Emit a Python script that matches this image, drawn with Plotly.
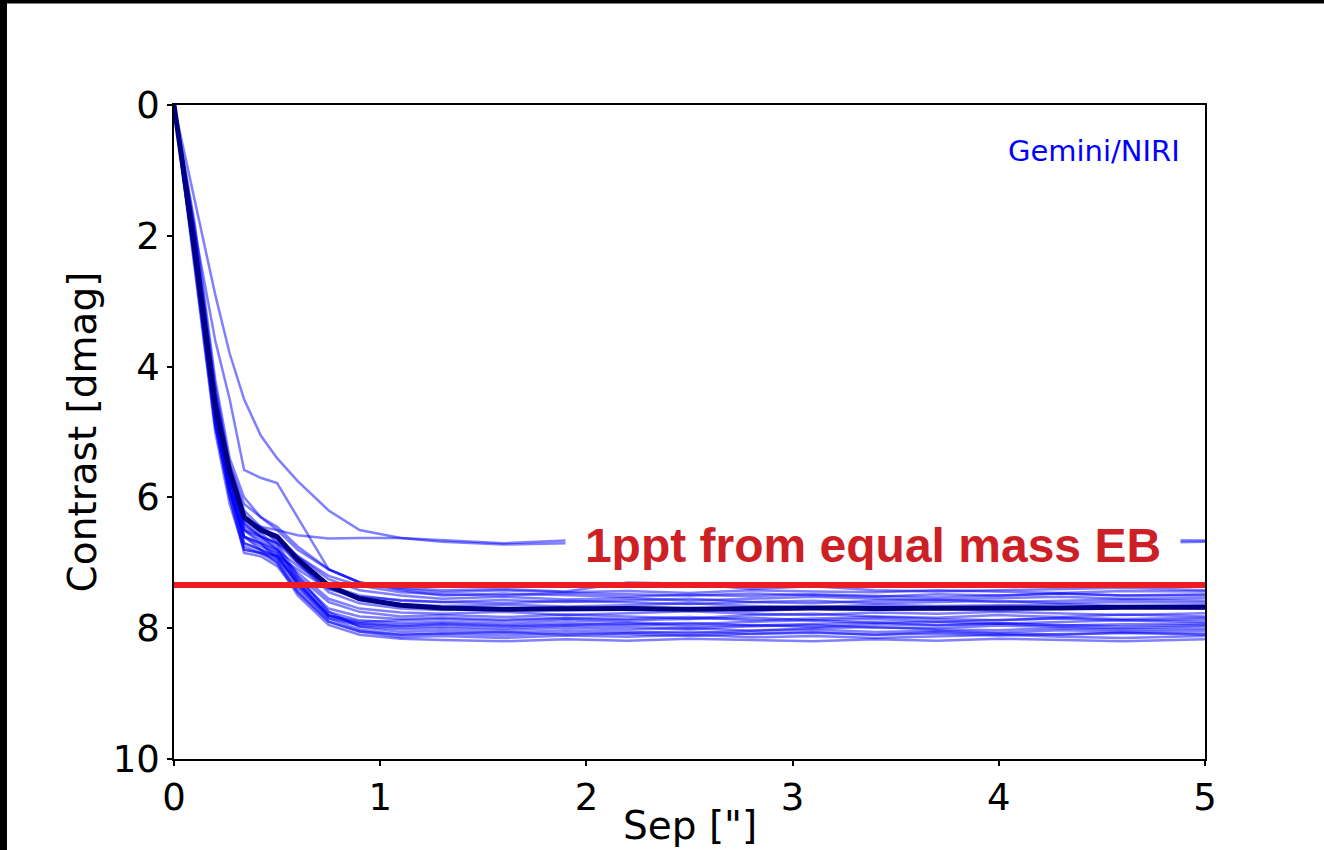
import plotly.graph_objects as go

# Separation grid [arcsec]
sep = [0.0, 0.1, 0.2, 0.27, 0.34, 0.42, 0.5, 0.6, 0.75, 0.9, 1.1, 1.3,
       1.6, 1.9, 2.2, 2.5, 2.8, 3.1, 3.4, 3.7, 4.0, 4.3, 4.6, 5.0]

c01 = [0, 2.0, 4.4, 5.5, 6.1, 6.3, 6.45, 6.75, 7.1, 7.3, 7.38, 7.42, 7.40, 7.44, 7.30, 7.32, 7.40, 7.36, 7.42, 7.44, 7.42, 7.40, 7.38, 7.42]
c02 = [0, 2.3, 4.7, 5.8, 6.5, 6.6, 6.7, 6.9, 7.2, 7.35, 7.45, 7.48, 7.5, 7.46, 7.48, 7.5, 7.47, 7.5, 7.52, 7.48, 7.5, 7.47, 7.5, 7.48]
c03 = [0, 2.1, 4.5, 5.6, 6.3, 6.45, 6.6, 6.9, 7.25, 7.42, 7.5, 7.55, 7.52, 7.56, 7.54, 7.58, 7.55, 7.52, 7.55, 7.57, 7.54, 7.52, 7.55, 7.54]
c04 = [0, 2.4, 4.9, 5.9, 6.6, 6.7, 6.8, 7.05, 7.35, 7.5, 7.58, 7.6, 7.62, 7.58, 7.6, 7.63, 7.6, 7.58, 7.62, 7.6, 7.58, 7.62, 7.6, 7.61]
c05 = [0, 2.2, 4.6, 5.7, 6.4, 6.6, 6.7, 7.0, 7.4, 7.55, 7.63, 7.66, 7.64, 7.67, 7.65, 7.62, 7.66, 7.68, 7.64, 7.66, 7.65, 7.63, 7.66, 7.65]
c06 = [0, 2.0, 4.5, 5.6, 6.3, 6.5, 6.65, 7.0, 7.45, 7.62, 7.7, 7.72, 7.7, 7.68, 7.72, 7.7, 7.74, 7.7, 7.68, 7.71, 7.73, 7.7, 7.68, 7.7]
c07 = [0, 2.3, 4.8, 5.9, 6.6, 6.75, 6.85, 7.15, 7.55, 7.7, 7.76, 7.78, 7.75, 7.8, 7.77, 7.74, 7.78, 7.8, 7.76, 7.78, 7.75, 7.78, 7.8, 7.77]
c08 = [0, 2.1, 4.6, 5.7, 6.45, 6.6, 6.8, 7.2, 7.6, 7.75, 7.82, 7.8, 7.83, 7.79, 7.82, 7.85, 7.8, 7.78, 7.82, 7.84, 7.8, 7.83, 7.79, 7.82]
c09 = [0, 2.2, 4.7, 5.8, 6.7, 6.8, 6.9, 7.25, 7.7, 7.82, 7.86, 7.84, 7.87, 7.84, 7.86, 7.83, 7.88, 7.85, 7.83, 7.86, 7.88, 7.84, 7.86, 7.84]
c10 = [0, 1.9, 4.3, 5.5, 6.2, 6.45, 6.7, 7.2, 7.75, 7.88, 7.92, 7.9, 7.93, 7.88, 7.91, 7.94, 7.9, 7.88, 7.92, 7.9, 7.93, 7.9, 7.88, 7.91]
c11 = [0, 2.4, 4.9, 6.0, 6.8, 6.85, 6.95, 7.3, 7.8, 7.92, 7.95, 7.93, 7.96, 7.92, 7.95, 7.92, 7.96, 7.94, 7.91, 7.95, 7.93, 7.96, 7.94, 7.93]
c12 = [0, 2.1, 4.6, 5.75, 6.5, 6.65, 6.85, 7.35, 7.85, 7.95, 7.99, 7.97, 8.0, 7.96, 7.98, 8.01, 7.97, 7.95, 7.99, 8.0, 7.96, 7.98, 8.0, 7.97]
c13 = [0, 2.2, 4.7, 5.85, 6.6, 6.7, 6.9, 7.3, 7.8, 7.97, 8.02, 8.0, 8.03, 7.99, 8.02, 8.0, 8.04, 8.0, 7.98, 8.02, 8.03, 8.0, 8.02, 8.01]
c14 = [0, 2.0, 4.5, 5.65, 6.4, 6.6, 6.8, 7.25, 7.75, 7.98, 8.06, 8.04, 8.07, 8.03, 8.05, 8.08, 8.04, 8.02, 8.06, 8.04, 8.07, 8.03, 8.05, 8.04]
c15 = [0, 2.3, 4.8, 5.9, 6.75, 6.85, 7.0, 7.4, 7.85, 8.02, 8.1, 8.08, 8.06, 8.1, 8.07, 8.05, 8.09, 8.07, 8.1, 8.06, 8.08, 8.1, 8.07, 8.08]
c16 = [0, 2.1, 4.6, 5.7, 6.5, 6.7, 6.95, 7.45, 7.9, 8.05, 8.14, 8.12, 8.15, 8.11, 8.13, 8.1, 8.14, 8.12, 8.15, 8.12, 8.1, 8.13, 8.15, 8.12]
c17 = [0, 2.2, 4.7, 5.8, 6.6, 6.8, 7.0, 7.5, 7.95, 8.1, 8.16, 8.18, 8.2, 8.17, 8.19, 8.16, 8.18, 8.2, 8.17, 8.19, 8.16, 8.18, 8.2, 8.17]
c18 = [0, 1.8, 4.2, 5.4, 6.0, 6.3, 6.5, 6.8, 7.1, 7.3, 7.42, 7.5, 7.47, 7.5, 7.52, 7.49, 7.51, 7.48, 7.5, 7.53, 7.5, 7.47, 7.5, 7.5]
c19 = [0, 2.5, 5.0, 6.1, 6.8, 6.85, 6.9, 7.1, 7.4, 7.52, 7.57, 7.6, 7.57, 7.6, 7.58, 7.55, 7.6, 7.62, 7.58, 7.56, 7.6, 7.58, 7.56, 7.58]
c20 = [0, 2.3, 4.8, 5.9, 6.7, 6.8, 6.9, 7.35, 7.8, 7.9, 7.88, 7.86, 7.89, 7.85, 7.88, 7.86, 7.84, 7.88, 7.86, 7.9, 7.87, 7.85, 7.88, 7.87]
c21 = [0, 2.0, 4.4, 5.6, 6.35, 6.55, 6.75, 7.3, 7.82, 7.93, 7.97, 7.94, 7.97, 7.95, 7.93, 7.97, 7.95, 7.98, 7.94, 7.96, 7.93, 7.95, 7.97, 7.95]
c22 = [0, 2.4, 4.9, 6.0, 6.85, 6.9, 7.05, 7.45, 7.9, 8.05, 8.1, 8.08, 8.11, 8.07, 8.09, 8.12, 8.08, 8.06, 8.1, 8.08, 8.11, 8.09, 8.07, 8.1]
o1 = [0, 1.45, 2.9, 3.8, 4.5, 5.05, 5.4, 5.75, 6.2, 6.5, 6.62, 6.68, 6.72, 6.7, 6.68, 6.72, 6.7, 6.68, 6.7, 6.72, 6.7, 6.68, 6.7, 6.68]
o2 = [0, 1.9, 3.6, 4.5, 5.58, 5.7, 5.78, 6.3, 7.1, 7.3, 7.4, 7.45, 7.42, 7.45, 7.43, 7.46, 7.42, 7.44, 7.45, 7.42, 7.44, 7.46, 7.43, 7.44]
o3 = [0, 2.1, 4.5, 5.6, 6.35, 6.45, 6.5, 6.58, 6.63, 6.62, 6.62, 6.65, 6.7, 6.66, 6.65, 6.68, 6.66, 6.64, 6.67, 6.65, 6.66, 6.68, 6.65, 6.66]

curves = [c01, c02, c03, c04, c05, c06, c07, c08, c09, c10, c11, c12, c13,
          c14, c15, c16, c17, c18, c19, c20, c21, c22, o1, o2, o3]

median_curve = [0, 2.2, 4.6, 5.6, 6.3, 6.5, 6.6, 6.95, 7.35, 7.55, 7.65, 7.69,
                7.71, 7.7, 7.7, 7.71, 7.7, 7.69, 7.7, 7.7, 7.69, 7.69, 7.68, 7.68]

threshold_sep = [0.0, 5.0]
threshold_dmag = 7.34

x_ticks = [0, 1, 2, 3, 4, 5]
y_ticks = [0, 2, 4, 6, 8, 10]

fig = go.Figure()
for c in curves:
    fig.add_trace(go.Scatter(x=sep, y=c, mode="lines",
                             line=dict(color="rgba(0,0,255,0.5)", width=2.5),
                             showlegend=False, hoverinfo="skip"))
fig.add_trace(go.Scatter(x=sep, y=median_curve, mode="lines",
                         line=dict(color="#000080", width=5),
                         showlegend=False))
fig.add_trace(go.Scatter(x=threshold_sep, y=[threshold_dmag] * 2, mode="lines",
                         line=dict(color="#ec1c24", width=6),
                         showlegend=False))

axis_common = dict(showline=True, linecolor="black", linewidth=1.5, mirror=True,
                   ticks="outside", ticklen=5, tickwidth=1.5, tickcolor="black",
                   showgrid=False, zeroline=False, automargin=False,
                   tickfont=dict(family="DejaVu Sans", size=37, color="black"))

fig.update_xaxes(range=[0, 5], tickvals=x_ticks, ticktext=[str(v) for v in x_ticks],
                 **axis_common)
fig.update_yaxes(range=[10, 0], tickvals=y_ticks, ticktext=[str(v) for v in y_ticks],
                 title=dict(text="Contrast [dmag]", font=dict(family="DejaVu Sans", size=39, color="black"),
                            standoff=4),
                 **axis_common)

# black frame strips at the left and top edges of the image
L, T, W, H = 174, 105, 1031, 654
def px_x(p):
    return (p - L) / W
def px_y(p):
    return (T + H - p) / H

# x-axis title, sitting at the very bottom edge like the reference
fig.add_annotation(x=0.5, y=px_y(850), xref="paper", yref="paper", text='Sep ["]',
                   showarrow=False, xanchor="center", yanchor="bottom",
                   font=dict(family="DejaVu Sans", size=39, color="black"))

fig.add_annotation(x=3.39, y=6.73, xref="x", yref="y", text="<b>1ppt from equal mass EB</b>",
                   showarrow=False, bgcolor="white", width=612, height=50,
                   font=dict(family="Liberation Sans", size=48, color="#cc1f26"))
fig.add_annotation(x=4.888, y=0.70, xref="x", yref="y", text="Gemini/NIRI",
                   showarrow=False, xanchor="right", yanchor="middle",
                   font=dict(family="DejaVu Sans", size=29, color="#0000ff"))

fig.add_shape(type="rect", xref="paper", yref="paper", x0=px_x(0), x1=px_x(7),
              y0=px_y(850), y1=px_y(0), fillcolor="black", line=dict(width=0), layer="above")
fig.add_shape(type="rect", xref="paper", yref="paper", x0=px_x(0), x1=px_x(1324),
              y0=px_y(3.5), y1=px_y(0), fillcolor="black", line=dict(width=0), layer="above")

fig.update_layout(width=1324, height=850, margin=dict(l=L, r=1324 - L - W, t=T, b=850 - T - H),
                  paper_bgcolor="white", plot_bgcolor="white")

fig.write_html("out.html")
